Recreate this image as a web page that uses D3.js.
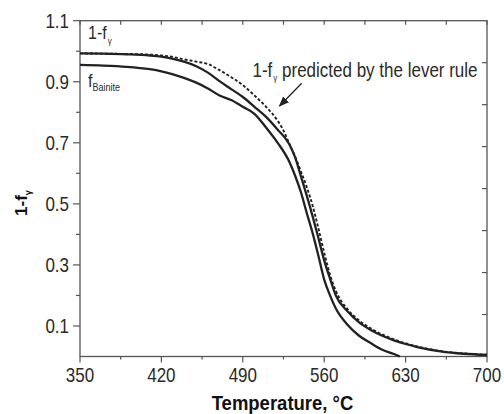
<!DOCTYPE html>
<html>
<head>
<meta charset="UTF-8">
<style>
  body { margin: 0; background: #fff; }
  text { font-family: Arial, "Liberation Sans", sans-serif; fill: #2a2a2a; }
  .frame { stroke: #555; stroke-width: 1.3; fill: none; }
  .curve { fill: none; stroke: #222; stroke-width: 2.3; }
  .lever { fill: none; stroke: #222; stroke-width: 1.9; stroke-dasharray: 3,2; }
</style>
</head>
<body>
<script src="https://d3js.org/d3.v7.min.js"></script>
<script>
// measured curves (temperature in °C, fraction)
var tempA = [350,370,390,410,420,430,440,450,460,470,480,490,500,510,520,530,535,540,545,550,555,560,565,570,580,590,600,610,620,630,640,660,680,700];
var oneMinusFg = [0.993,0.992,0.990,0.986,0.982,0.975,0.965,0.951,0.930,0.902,0.876,0.850,0.818,0.785,0.743,0.695,0.652,0.590,0.527,0.460,0.388,0.315,0.255,0.200,0.148,0.112,0.087,0.068,0.053,0.041,0.031,0.017,0.009,0.005];

var tempB = [350,370,390,410,420,430,440,450,460,470,480,490,500,510,520,530,535,540,545,550,555,560,565,570,580,590,600,610,620,625];
var fBainite = [0.955,0.953,0.949,0.941,0.934,0.924,0.912,0.897,0.878,0.855,0.840,0.818,0.795,0.750,0.700,0.638,0.592,0.538,0.470,0.405,0.330,0.252,0.200,0.157,0.104,0.068,0.044,0.022,0.008,0.0];

// lever rule prediction (dashed)
var tempC = [350,370,390,410,420,430,440,450,460,470,480,490,500,510,520,525,530,535,540,545,550,555,560,565,570,580,590,600,620,640,660,680,700];
var leverRule = [0.993,0.992,0.991,0.989,0.986,0.981,0.973,0.966,0.958,0.938,0.915,0.889,0.855,0.818,0.772,0.740,0.697,0.655,0.606,0.555,0.495,0.420,0.340,0.268,0.215,0.155,0.118,0.092,0.056,0.033,0.018,0.010,0.006];

var xTicks = [350,420,490,560,630,700];
var yTicks = [0.1,0.3,0.5,0.7,0.9,1.1];

var W = 504, H = 414;
var m = {left: 80, top: 20.7, right: 17, bottom: 57.5};
var w = W - m.left - m.right, h = H - m.top - m.bottom;
var stretch = 1.2; // the scanned text is a bit taller than wide

var svg = d3.select('body').append('svg').attr('width', W).attr('height', H);
var g = svg.append('g').attr('transform', 'translate(' + m.left + ',' + m.top + ')');

var x = d3.scaleLinear().domain([350, 700]).range([0, w]);
var y = d3.scaleLinear().domain([0, 1.1]).range([h, 0]);
var yr = d3.scaleLinear().domain([0, 8]).range([h, 0]);

function place(px, py) { return 'translate(' + px + ',' + py + ') scale(1,' + stretch + ')'; }

// frame
g.append('rect').attr('class', 'frame').attr('width', w).attr('height', h);

// bottom axis: major + minor outward ticks
var bottom = g.append('g').attr('transform', 'translate(0,' + h + ')');
bottom.selectAll('.maj').data(xTicks).enter().append('line')
    .attr('x1', x).attr('x2', x).attr('y1', 0).attr('y2', 6)
    .attr('stroke', '#555').attr('stroke-width', 1.2);
bottom.selectAll('.min').data(d3.range(385, 700, 70)).enter().append('line')
    .attr('x1', x).attr('x2', x).attr('y1', 0).attr('y2', 3)
    .attr('stroke', '#555').attr('stroke-width', 1.2);
bottom.selectAll('text').data(xTicks).enter().append('text')
    .attr('transform', function(d){ return place(x(d), 25.5); }).attr('text-anchor', 'middle')
    .style('font-size', '17px').text(function(d){ return d; });

// left axis
var left = g.append('g');
left.selectAll('.maj').data(yTicks).enter().append('line')
    .attr('y1', y).attr('y2', y).attr('x1', 0).attr('x2', -7)
    .attr('stroke', '#555').attr('stroke-width', 1.2);
left.selectAll('.min').data([0.2,0.4,0.6,0.8,1.0]).enter().append('line')
    .attr('y1', y).attr('y2', y).attr('x1', 0).attr('x2', -4)
    .attr('stroke', '#555').attr('stroke-width', 1.2);
left.selectAll('text').data(yTicks).enter().append('text')
    .attr('transform', function(d){ return place(-11, y(d) + 7); }).attr('text-anchor', 'end')
    .style('font-size', '17px').text(function(d){ return d.toFixed(1); });

// top and right inward ticks
g.append('g').selectAll('line').data(d3.range(350, 701, 35)).enter().append('line')
    .attr('x1', x).attr('x2', x).attr('y1', 0).attr('y2', 4)
    .attr('stroke', '#555').attr('stroke-width', 1.2);
g.append('g').selectAll('line').data(d3.range(1, 8)).enter().append('line')
    .attr('y1', yr).attr('y2', yr).attr('x1', w).attr('x2', w - 5)
    .attr('stroke', '#555').attr('stroke-width', 1.2);

// curves
var line = d3.line()
    .x(function(d){ return x(d[0]); })
    .y(function(d){ return y(d[1]); })
    .curve(d3.curveMonotoneX);

g.append('path').attr('class', 'lever').attr('d', line(d3.zip(tempC, leverRule)));
g.append('path').attr('class', 'curve').attr('d', line(d3.zip(tempA, oneMinusFg)));
g.append('path').attr('class', 'curve').attr('d', line(d3.zip(tempB, fBainite)));

// labels
var t1 = svg.append('text').attr('transform', place(88, 39)).style('font-size', '16px');
t1.append('tspan').text('1-f');
t1.append('tspan').attr('dx', 1).attr('dy', 4).style('font-size', '8px').text('γ');

var t2 = svg.append('text').attr('transform', place(88, 87)).style('font-size', '16px');
t2.append('tspan').text('f');
t2.append('tspan').attr('dy', 3).style('font-size', '9px').text('Bainite');

var t3 = svg.append('text').attr('transform', place(252.5, 76.5)).style('font-size', '17px');
t3.append('tspan').text('1-f');
t3.append('tspan').attr('dx', 1).attr('dy', 4).style('font-size', '8px').text('γ');
t3.append('tspan').attr('dy', -4).text(' predicted by the lever rule');

// arrow
svg.append('defs').append('marker').attr('id', 'arr')
    .attr('viewBox', '0 0 10 10').attr('refX', 9).attr('refY', 5)
    .attr('markerWidth', 8).attr('markerHeight', 8).attr('orient', 'auto')
    .append('path').attr('d', 'M0,1L10,5L0,9Z').attr('fill', '#222');
svg.append('line').attr('x1', 301.7).attr('y1', 83.3).attr('x2', 279.5).attr('y2', 106)
    .attr('stroke', '#222').attr('stroke-width', 1.3).attr('marker-end', 'url(#arr)');

// axis titles
svg.append('text').attr('transform', 'translate(' + (m.left + w / 2 - 1) + ',410) scale(1,1.1)')
    .attr('text-anchor', 'middle')
    .style('font-size', '18.5px').style('font-weight', 'bold').style('fill', '#111')
    .text('Temperature, °C');

var yt = svg.append('text').attr('transform', 'translate(27,203) rotate(-90)')
    .attr('text-anchor', 'middle').style('font-size', '17px').style('font-weight', 'bold').style('fill', '#111');
yt.append('tspan').text('1-f');
yt.append('tspan').attr('dy', 4).style('font-size', '9px').text('γ');
</script>
</body>
</html>
